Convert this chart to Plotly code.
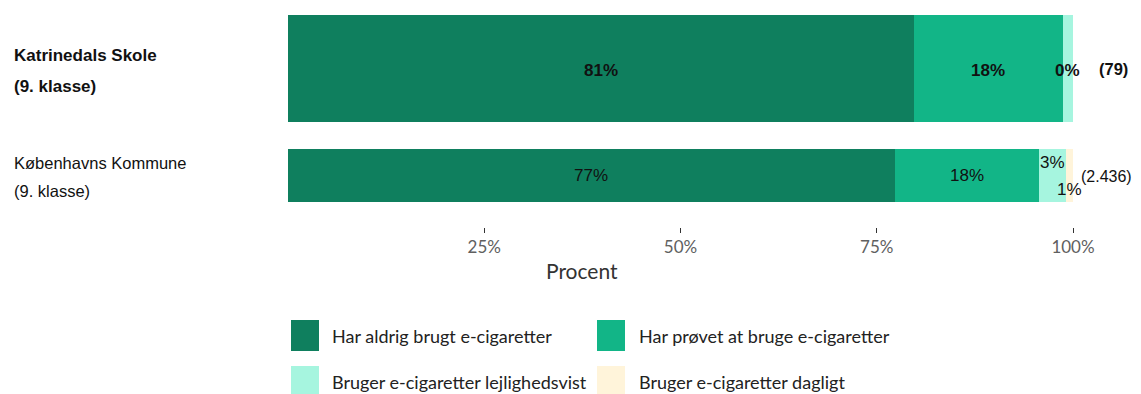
import plotly.graph_objects as go

# ---- data ----
groups = ["Katrinedals Skole\n(9. klasse)", "Københavns Kommune\n(9. klasse)"]
group_pos = [1, 0]
counts = ["(79)", "(2.436)"]
series_names = [
    "Har aldrig brugt e-cigaretter",
    "Har prøvet at bruge e-cigaretter",
    "Bruger e-cigaretter lejlighedsvist",
    "Bruger e-cigaretter dagligt",
]
# segment sizes (percent) per series: [Katrinedals, København]
aldrig = [79.7, 77.3]
proevet = [19.0, 18.4]
lejlighedsvist = [1.3, 3.4]
dagligt = [0.0, 0.9]
values = [aldrig, proevet, lejlighedsvist, dagligt]
# printed labels per series
lbl_aldrig = ["81%", "77%"]
lbl_proevet = ["18%", "18%"]
lbl_lejl = ["0%", "3%"]
lbl_dagl = ["", "1%"]
labels = [lbl_aldrig, lbl_proevet, lbl_lejl, lbl_dagl]
tick_vals = [25, 50, 75, 100]
tick_text = ["25%", "50%", "75%", "100%"]

# ---- style ----
colors = ["#0F7F5E", "#12B587", "#A6F5DF", "#FFF4DA"]
bar_widths = [1.0, 0.5]
bold_group = [True, False]
label_yshift = [[-2, 0], [-2, 0], [-2, 13], [0, -14]]
count_xshift = [24, 6]
count_yshift = [0, -1]
count_size = [16.5, 16]
group_yshift = [-2, -1]

OFF = 8  # page body margin
W, H = 1141 - OFF, 394 - OFF
L, T = 288 - OFF, 15 - OFF
R = W - (1073 - OFF)
B = H - (227 - OFF)
plot_h = H - T - B
plot_w = W - L - R

def px_x(px):
    return (px - OFF - L) / plot_w

def px_y(py):
    return (H - B - (py - OFF)) / plot_h

fig = go.Figure()
for name, vals, col in zip(series_names, values, colors):
    fig.add_trace(go.Bar(
        x=vals, y=group_pos, orientation="h", width=bar_widths,
        marker=dict(color=col, line=dict(width=0)), name=name,
        showlegend=False, hoverinfo="skip",
    ))

FONT_A = "Liberation Sans, Arial"
FONT_B = "Lato, Open Sans"

annotations = []
for gi, gy in enumerate(group_pos):
    cum = 0
    for si in range(len(values)):
        v = values[si][gi]
        txt = labels[si][gi]
        if txt:
            t = f"<b>{txt}</b>" if bold_group[gi] else txt
            annotations.append(dict(
                x=cum + v / 2, y=gy, xref="x", yref="y", text=t, showarrow=False,
                xanchor="center", yanchor="middle",
                font=dict(family=FONT_A, size=17, color="#111111"),
                yshift=label_yshift[si][gi],
            ))
        cum += v
    t = f"<b>{counts[gi]}</b>" if bold_group[gi] else counts[gi]
    annotations.append(dict(
        x=cum, y=gy, xref="x", yref="y", text=t, showarrow=False,
        xanchor="left", yanchor="middle", xshift=count_xshift[gi],
        yshift=count_yshift[gi],
        font=dict(family=FONT_A, size=count_size[gi], color="#111111"),
    ))
    lines = groups[gi].split("\n")
    sp = 31 if bold_group[gi] else 28
    for li, line in enumerate(lines):
        t = f"<b>{line}</b>" if bold_group[gi] else line
        annotations.append(dict(
            x=px_x(12), y=gy, xref="paper", yref="y", text=t, showarrow=False,
            xanchor="left", yanchor="middle",
            yshift=(len(lines) - 1) / 2 * sp - li * sp + group_yshift[gi],
            font=dict(family=FONT_A, size=17 if bold_group[gi] else 16.5,
                      color="#111111"),
        ))

annotations.append(dict(
    x=px_x(582), y=px_y(270), xref="paper", yref="paper", text="Procent",
    showarrow=False, xanchor="center", yanchor="middle",
    font=dict(family=FONT_B, size=21, color="#333333"),
))

shapes = []
leg_cols = [(291, 330), (597, 637)]
leg_rows = [(320, 351), (366, 397)]
for i, (name, col) in enumerate(zip(series_names, colors)):
    r, c = divmod(i, 2)
    sx, tx = leg_cols[c]
    y0, y1 = leg_rows[r]
    shapes.append(dict(
        type="rect", xref="paper", yref="paper",
        x0=px_x(sx), x1=px_x(sx + 28), y0=px_y(y1), y1=px_y(y0),
        fillcolor=col, line=dict(width=0),
    ))
    annotations.append(dict(
        x=px_x(tx), y=px_y((y0 + y1) / 2), xref="paper", yref="paper", text=name,
        showarrow=False, xanchor="left", yanchor="middle",
        font=dict(family=FONT_B, size=18, color="#222222"),
    ))

fig.update_layout(
    width=W, height=H, barmode="stack", bargap=0,
    margin=dict(l=L, r=R, t=T, b=B),
    plot_bgcolor="white", paper_bgcolor="white",
    annotations=annotations, shapes=shapes, showlegend=False,
    xaxis=dict(
        range=[0, 100], tickvals=tick_vals, ticktext=tick_text,
        showgrid=False, zeroline=False, showline=False,
        ticks="outside", ticklen=5, tickcolor="#333333", tickwidth=1,
        tickfont=dict(family=FONT_B, size=17, color="#606060"),
    ),
    yaxis=dict(
        range=[-0.48, 1.5], showticklabels=False, showgrid=False,
        zeroline=False, showline=False, ticks="",
    ),
)

fig.write_html("out.html")
